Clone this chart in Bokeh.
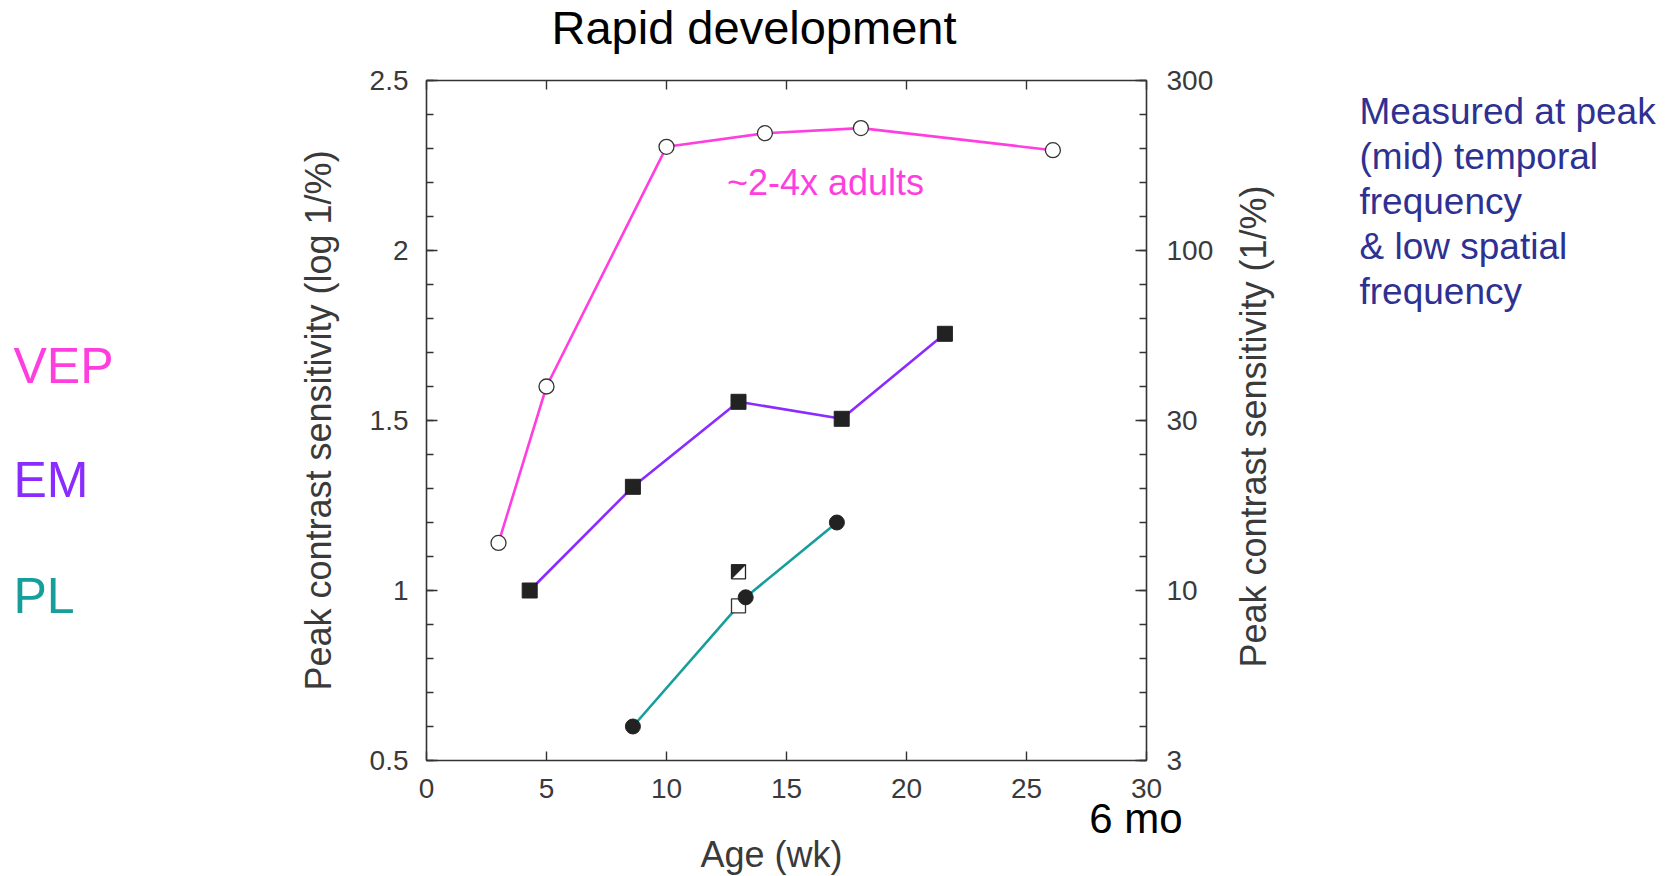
from bokeh.plotting import figure
from bokeh.models import Range1d, LinearAxis, FixedTicker, Label, Title
from bokeh.layouts import row, column
from bokeh.embed import file_html
from bokeh.resources import INLINE
import math

# ---- data ----
vep_x = [3.0, 5.0, 10.0, 14.1, 18.1, 26.1]
vep_y = [1.14, 1.60, 2.305, 2.345, 2.36, 2.295]
em_x = [4.3, 8.6, 13.0, 17.3, 21.6]
em_y = [1.0, 1.305, 1.555, 1.505, 1.755]
pl_x = [8.6, 13.3, 17.1]
pl_y = [0.60, 0.98, 1.20]
open_sq_x = [13.0]
open_sq_y = [0.955]
half_sq_x = [13.0]
half_sq_y = [1.055]

x_ticks = [0, 5, 10, 15, 20, 25, 30]
y_ticks = [0.5, 1.0, 1.5, 2.0, 2.5]
y_minor = [round(0.5 + 0.1 * i, 2) for i in range(21)]
left_labels = ["0.5", "1", "1.5", "2", "2.5"]
right_labels = ["3", "10", "30", "100", "300"]

title_text = "Rapid development"
x_title = "Age  (wk)"
y_title = "Peak contrast sensitivity (log 1/%)"
y2_title = "Peak contrast sensitivity (1/%)"
note_text = "~2-4x adults"
age_note = "6 mo"
method_names = ["VEP", "EM", "PL"]
side_lines = ["Measured at peak", "(mid) temporal", "frequency", "& low spatial", "frequency"]

VEP_C = "#ff3ee0"
EM_C = "#8a2bff"
PL_C = "#159e9a"
NOTE_C = "#2e3192"
FONT = "Liberation Sans"
AX_C = "#333333"
LBL_C = "#3a3a3a"

TOTAL_W = 1670
TOP_H = 60
MID_H = 816
LEFT_W, MAIN_W, RIGHT_W = 280, 948, 442
FW, FH = 720, 680


def blank_fig(w, h):
    f = figure(width=w, height=h, x_range=Range1d(0, 1), y_range=Range1d(0, 1),
               output_backend="svg", toolbar_location=None, title=None,
               x_axis_location=None, y_axis_location=None, min_border=0)
    f.outline_line_color = None
    f.grid.visible = False
    return f


def add_label(f, text, sx, sy, size, color, align="left", baseline="middle", angle=0.0):
    f.add_layout(Label(x=sx, y=sy, x_units="screen", y_units="screen", text=text,
                       text_font=FONT, text_font_size=size, text_color=color,
                       text_align=align, text_baseline=baseline, angle=angle))


def make_title(text, size, color, align, offset, standoff):
    t = Title(text=text, align=align, offset=offset, text_font=FONT, text_font_size=size,
              text_font_style="normal", text_color=color)
    try:
        t.standoff = standoff
    except Exception:
        t.standoff = 0
    return t


# ---------------- main chart ----------------
p = figure(width=MAIN_W, height=MID_H, x_range=Range1d(0, 30), y_range=Range1d(0.5, 2.5),
           output_backend="svg", toolbar_location=None, title=None,
           min_border_left=146, min_border_right=82, min_border_top=20, min_border_bottom=116)
p.extra_y_ranges = {"right": Range1d(0.5, 2.5)}
p.xgrid.visible = False
p.ygrid.visible = False
p.outline_line_color = None


def style_axis(ax, major_in, minor_in):
    ax.axis_line_color = AX_C
    ax.axis_line_width = 1.6
    ax.major_tick_line_color = AX_C
    ax.major_tick_line_width = 1.4
    ax.minor_tick_line_color = AX_C
    ax.minor_tick_line_width = 1.4
    ax.major_tick_in = major_in
    ax.major_tick_out = 0
    ax.minor_tick_in = minor_in
    ax.minor_tick_out = 0
    ax.major_label_text_font = FONT
    ax.major_label_text_font_size = "28px"
    ax.major_label_text_color = LBL_C
    ax.axis_label_text_font = FONT
    ax.axis_label_text_font_size = "36px"
    ax.axis_label_text_font_style = "normal"
    ax.axis_label_text_color = LBL_C


xb = p.xaxis[0]
xb.ticker = FixedTicker(ticks=x_ticks)
style_axis(xb, 9, 0)
xb.minor_tick_line_color = None
xb.major_label_standoff = 18

xt = LinearAxis(ticker=FixedTicker(ticks=x_ticks))
style_axis(xt, 9, 0)
xt.minor_tick_line_color = None
xt.major_label_text_color = None
xt.major_label_text_font_size = "0px"
xt.major_label_standoff = 0
p.add_layout(xt, "above")

yl = p.yaxis[0]
yl.ticker = FixedTicker(ticks=y_ticks, minor_ticks=y_minor)
style_axis(yl, 11, 7)
yl.major_label_overrides = {t: s for t, s in zip(y_ticks, left_labels)}
yl.major_label_standoff = 18
yl.axis_label = y_title
yl.axis_label_standoff = 28

yr = LinearAxis(y_range_name="right", ticker=FixedTicker(ticks=y_ticks, minor_ticks=y_minor))
style_axis(yr, 11, 7)
yr.major_label_overrides = {t: s for t, s in zip(y_ticks, right_labels)}
yr.major_label_standoff = 20
p.add_layout(yr, "right")

# "6 mo" under the 30-week tick, then the x title
p.add_layout(make_title(age_note, "42px", "#000000", "right", -36, -15), "below")
p.add_layout(make_title(x_title, "36px", LBL_C, "left", 274, -6), "below")

p.line(vep_x, vep_y, line_color=VEP_C, line_width=2.6)
p.line(em_x, em_y, line_color=EM_C, line_width=2.6)
p.line(pl_x, pl_y, line_color=PL_C, line_width=2.6)

p.scatter(vep_x, vep_y, marker="circle", size=15, fill_color="white", line_color="#333333", line_width=1.3)
p.scatter(em_x, em_y, marker="square", size=15, fill_color="#222222", line_color="#222222", line_width=1)
p.scatter(open_sq_x, open_sq_y, marker="square", size=14, fill_color="white", line_color="#333333", line_width=1.3)
p.scatter(half_sq_x, half_sq_y, marker="square", size=14, fill_color="white", line_color="#222222", line_width=1.3)
hx = 7.0 * (30 / FW)
hy = 7.0 * (2.0 / FH)
p.patch([half_sq_x[0] - hx, half_sq_x[0] + hx, half_sq_x[0] - hx],
        [half_sq_y[0] + hy, half_sq_y[0] + hy, half_sq_y[0] - hy],
        fill_color="#222222", line_color="#222222", line_width=1)
p.scatter(pl_x, pl_y, marker="circle", size=15, fill_color="#222222", line_color="#222222")

add_label(p, note_text, 399, 578, "36px", VEP_C, align="center")

# ---------------- title strip ----------------
top = blank_fig(TOTAL_W, TOP_H)
add_label(top, title_text, 551, 33, "47px", "#000000", align="left")

# ---------------- left: method names (frame aligned with the chart frame) ----------------
left = blank_fig(LEFT_W, MID_H)
for name, col, sy in zip(method_names, [VEP_C, EM_C, PL_C], [395, 281, 165]):
    add_label(left, name, 13, sy, "50px", col)

# ---------------- right: right axis title and note ----------------
right = blank_fig(RIGHT_W, MID_H)
add_label(right, y2_title, 25, 334, "36px", LBL_C, align="center", angle=math.pi / 2)
for i, line in enumerate(side_lines):
    add_label(right, line, 131, 649 - 45 * i, "37px", NOTE_C)

layout = column(top, row(left, p, right))
open("out.html", "w").write(file_html(layout, INLINE))
